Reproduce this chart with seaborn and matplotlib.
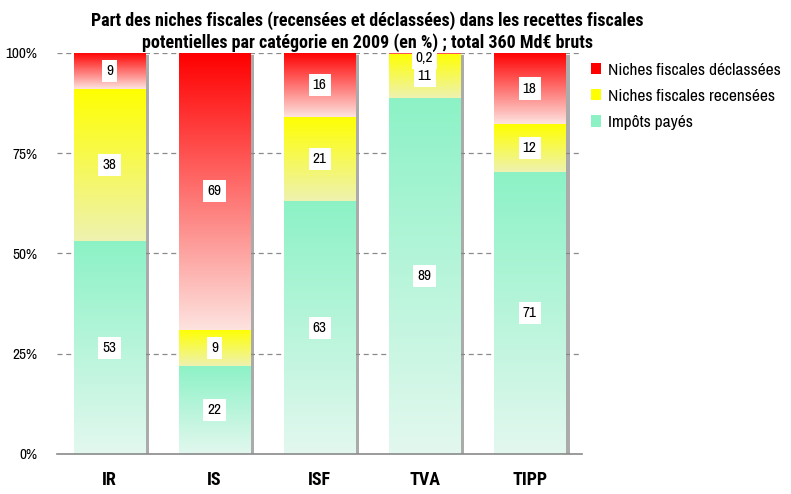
import seaborn as sns
import numpy as np
import pandas as pd
import matplotlib.pyplot as plt
import matplotlib.patheffects as pe
from matplotlib.colors import LinearSegmentedColormap
from matplotlib.patches import Patch

categories = ["IR", "IS", "ISF", "TVA", "TIPP"]
impots_payes = [53, 22, 63, 89, 71]
niches_recensees = [38, 9, 21, 11, 12]
niches_declassees = [9, 69, 16, 0.2, 18]

series = ["Impôts payés", "Niches fiscales recensées", "Niches fiscales déclassées"]
values = [impots_payes, niches_recensees, niches_declassees]
# gradient colours: (top, bottom)
grads = [("#8cf2c6", "#e3f8ef"), ("#ffff00", "#eef2b0"), ("#ff0000", "#fde3df")]

sns.set_style("white")
plt.rcParams['font.family'] = ['Archivo Narrow', 'DejaVu Sans']
plt.rcParams['text.color'] = 'black'
plt.rcParams['xtick.color'] = 'black'
plt.rcParams['ytick.color'] = 'black'
bold_font = ['Roboto Condensed', 'DejaVu Sans']

fig = plt.figure(figsize=(7.91, 4.94), dpi=100)
ax = fig.add_axes([0.072, 0.081, 0.664, 0.812])

totals = np.sum(values, axis=0)
shares = [np.array(v) / totals * 100 for v in values]
bottoms = np.zeros(len(categories))

for name, share, raw, (top, bot) in zip(series, shares, values, grads):
    n_before = len(ax.patches)
    df = pd.DataFrame({"cat": categories, "val": share})
    sns.barplot(data=df, x="cat", y="val", color=top, width=0.68,
                saturation=1, ax=ax, zorder=2)
    bars = ax.patches[n_before:]
    cmap = LinearSegmentedColormap.from_list(name, [bot, top])
    for bar, b, r in zip(bars, bottoms, raw):
        bar.set_y(b)
        bar.set_linewidth(0)
        bar.set_path_effects([pe.SimplePatchShadow(offset=(3, -1.5), shadow_rgbFace="#888888", alpha=0.7),
                              pe.Normal()])
        x0, w, h = bar.get_x(), bar.get_width(), bar.get_height()
        grad = np.linspace(0, 1, 256).reshape(-1, 1)
        im = ax.imshow(grad, extent=[x0, x0 + w, b, b + h], origin="lower",
                       aspect="auto", cmap=cmap, zorder=2.5)
        im.set_clip_path(bar)
        lbl = f"{r:g}".replace(".", ",")
        yc = b + h / 2 if h > 2 else b + h - 1.2
        ax.text(x0 + w / 2, yc, lbl, ha="center", va="center", fontsize=11,
                zorder=5, bbox=dict(facecolor="white", edgecolor="none", pad=3))
    bottoms = bottoms + share

ax.set_xlim(-0.5, 4.5)
ax.set_ylim(0, 100)
ax.set_yticks([0, 25, 50, 75, 100])
ax.set_yticklabels(["0%", "25%", "50%", "75%", "100%"], fontsize=11)
for y in [25, 50, 75, 100]:
    ax.axhline(y, color="#8a8a8a", linestyle=(0, (4, 3)), linewidth=0.9, zorder=1)
ax.set_xlabel("")
ax.set_ylabel("")
ax.tick_params(axis="x", pad=12, length=0)
ax.tick_params(axis="y", length=0, pad=14)
for t in ax.get_xticklabels():
    t.set_fontweight("bold")
    t.set_family(bold_font)
    t.set_fontsize(13)
for s in ["top", "right", "left"]:
    ax.spines[s].set_visible(False)
ax.spines["bottom"].set_color("#8a8a8a")
ax.spines["bottom"].set_linewidth(1.2)

handles = [Patch(facecolor=grads[i][0], edgecolor="none") for i in [2, 1, 0]]
labels = [series[i] for i in [2, 1, 0]]
fig.legend(handles, labels, loc="upper left", bbox_to_anchor=(0.727, 0.905),
           frameon=False, fontsize=12.5, handlelength=0.6, handleheight=0.6,
           handletextpad=0.4, labelspacing=0.65)

fig.text(0.464, 0.977, "Part des niches fiscales (recensées et déclassées) dans les recettes fiscales\n"
         "potentielles par catégorie en 2009 (en %) ; total 360 Md€ bruts",
         ha="center", va="top", fontsize=13, fontweight="bold", family=bold_font,
         linespacing=1.2)

fig.savefig("out.png", dpi=100)
